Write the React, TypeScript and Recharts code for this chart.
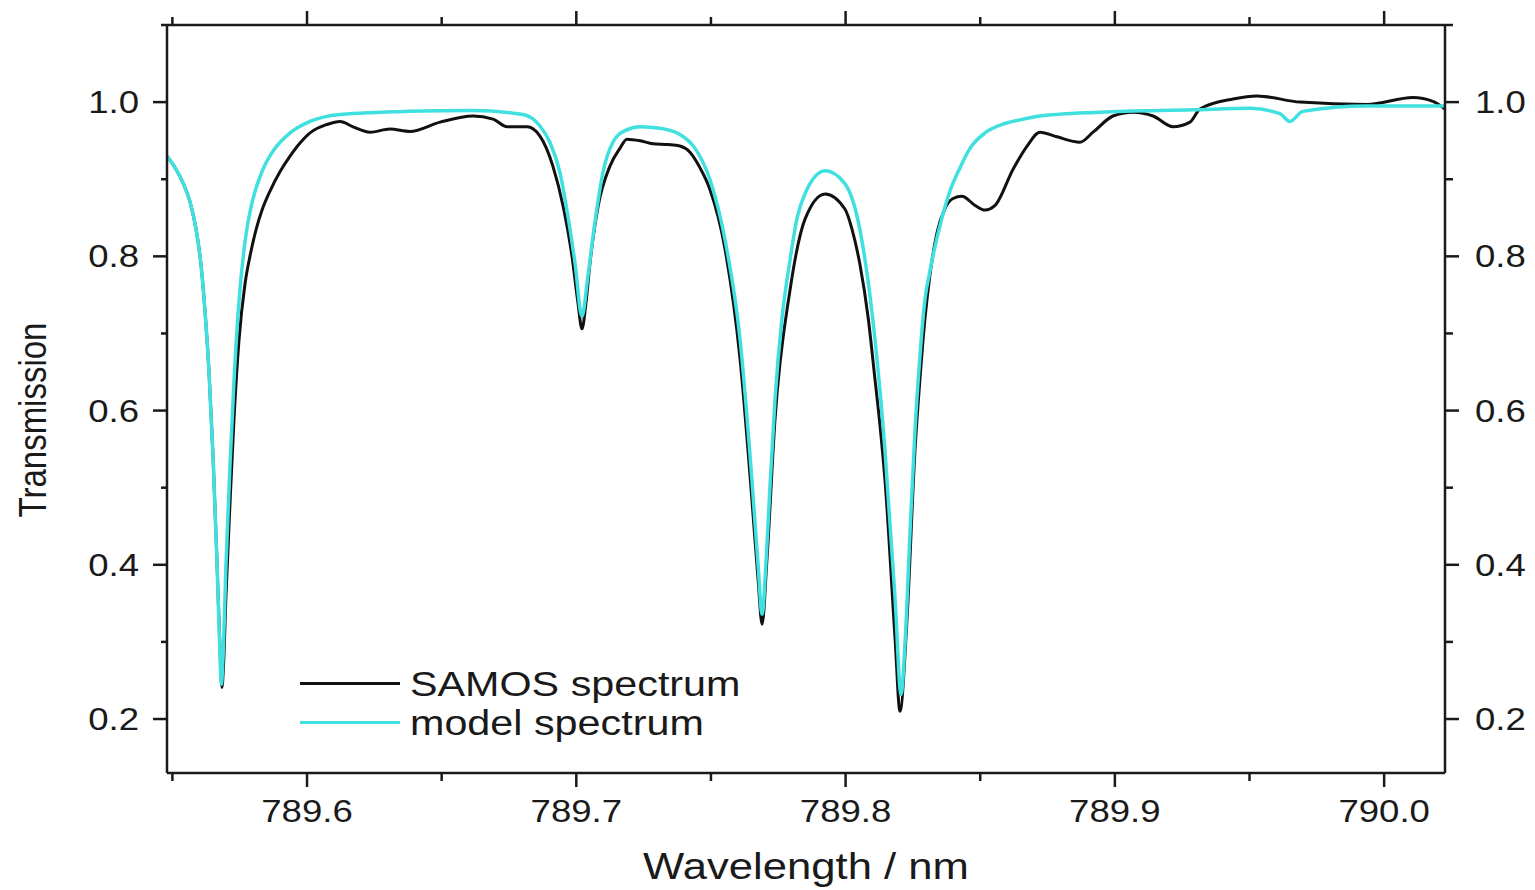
import { LineChart, Line, XAxis, YAxis, Legend } from "recharts";

// axis ranges
const WAVELENGTH_DOMAIN = [789.548, 790.0226];
const TRANSMISSION_DOMAIN = [0.13, 1.1];
const X_TICKS = [789.55, 789.6, 789.65, 789.7, 789.75, 789.8, 789.85, 789.9, 789.95, 790.0];
const Y_TICKS = [0.2, 0.3, 0.4, 0.5, 0.6, 0.7, 0.8, 0.9, 1.0, 1.1];

// measured spectrum (black)
const samosWavelength = [
  789.548, 789.551, 789.554, 789.5566, 789.5588, 789.5606, 789.5621, 789.5636, 789.5651,
  789.5666, 789.5677, 789.5684, 789.569, 789.5699, 789.5714, 789.5729, 789.5747, 789.577,
  789.5788, 789.5811, 789.5833, 789.5863, 789.59, 789.5937, 789.5974, 789.6011, 789.6074,
  789.6123, 789.6171, 789.6234, 789.6308, 789.6382, 789.6494, 789.6616, 789.6691, 789.6743,
  789.6817, 789.6865, 789.6913, 789.6951, 789.6984, 789.7006, 789.7021, 789.7036, 789.7051,
  789.7081, 789.7125, 789.7162, 789.7188, 789.7237, 789.7285, 789.7341, 789.7385, 789.7422,
  789.7459, 789.7496, 789.7552, 789.7608, 789.7652, 789.7675, 789.769, 789.7708, 789.7738,
  789.7794, 789.7849, 789.7924, 789.7998, 789.8024, 789.8053, 789.8084, 789.8109, 789.8128,
  789.8146, 789.8184, 789.8202, 789.8228, 789.8258, 789.8276, 789.8295, 789.8313, 789.8339,
  789.8369, 789.8399, 789.8432, 789.8481, 789.8518, 789.8555, 789.8622, 789.8674, 789.8722,
  789.8785, 789.887, 789.8919, 789.8993, 789.9068, 789.9142, 789.9216, 789.9279, 789.9316,
  789.9439, 789.9528, 789.9688, 789.9936, 790.0107, 790.0181, 790.0226,
];
const samosTransmission = [
  0.93, 0.915, 0.895, 0.87, 0.835, 0.79, 0.73, 0.65, 0.54,
  0.4, 0.29, 0.241, 0.27, 0.36, 0.48, 0.59, 0.69, 0.765,
  0.8, 0.835, 0.86, 0.885, 0.91, 0.93, 0.947, 0.96, 0.971,
  0.975, 0.968, 0.961, 0.965, 0.962, 0.974, 0.982, 0.978, 0.968,
  0.968, 0.956, 0.917, 0.865, 0.8, 0.74, 0.706, 0.74, 0.792,
  0.865, 0.917, 0.94, 0.952, 0.95, 0.946, 0.945, 0.943, 0.935,
  0.915, 0.887, 0.81, 0.667, 0.485, 0.381, 0.323, 0.407, 0.589,
  0.757, 0.848, 0.881, 0.861, 0.835, 0.79, 0.72, 0.641, 0.58,
  0.511, 0.303, 0.21, 0.329, 0.55, 0.64, 0.72, 0.775, 0.83,
  0.862, 0.875, 0.878, 0.866, 0.86, 0.866, 0.913, 0.943, 0.961,
  0.955, 0.948, 0.961, 0.982, 0.987, 0.982, 0.968, 0.974, 0.991,
  1.004, 1.008, 1.0, 0.997, 1.006, 1.001, 0.991,
];

// model spectrum (cyan)
const modelWavelength = [
  789.548, 789.551, 789.554, 789.5566, 789.5588, 789.5606, 789.5621, 789.5636, 789.5651,
  789.5666, 789.5677, 789.5682, 789.5688, 789.5699, 789.5714, 789.5729, 789.5747, 789.577,
  789.5796, 789.5833, 789.5881, 789.5937, 789.6011, 789.6123, 789.6371, 789.6616, 789.6802,
  789.6865, 789.6902, 789.6939, 789.6969, 789.6995, 789.7021, 789.7043, 789.7069, 789.7099,
  789.7136, 789.7181, 789.7237, 789.7311, 789.7385, 789.7441, 789.7496, 789.7552, 789.7608,
  789.7652, 789.7675, 789.769, 789.7704, 789.7719, 789.7738, 789.7764, 789.7794, 789.782,
  789.7849, 789.7924, 789.7998, 789.8053, 789.8109, 789.8146, 789.8184, 789.8206, 789.8221,
  789.8239, 789.8258, 789.8276, 789.8295, 789.831, 789.8358, 789.8388, 789.8425, 789.8462,
  789.8518, 789.8573, 789.8648, 789.8722, 789.8945, 789.929, 789.9502, 789.9613, 789.965,
  789.9698, 789.9936, 790.0226,
];
const modelTransmission = [
  0.93, 0.915, 0.895, 0.87, 0.835, 0.79, 0.73, 0.65, 0.54,
  0.4, 0.28, 0.245, 0.28, 0.4, 0.53, 0.64, 0.74, 0.82,
  0.87, 0.91, 0.94, 0.96, 0.975, 0.984, 0.988, 0.989, 0.984,
  0.969, 0.948, 0.909, 0.852, 0.792, 0.722, 0.774, 0.844, 0.909,
  0.948, 0.963, 0.968, 0.966, 0.958, 0.94, 0.9, 0.822, 0.693,
  0.511, 0.4, 0.336, 0.4, 0.5, 0.615, 0.72, 0.796, 0.85,
  0.881, 0.911, 0.894, 0.835, 0.693, 0.55, 0.355, 0.232, 0.3,
  0.44, 0.576, 0.67, 0.745, 0.775, 0.85, 0.885, 0.915, 0.94,
  0.96, 0.97, 0.977, 0.982, 0.987, 0.99, 0.992, 0.985, 0.975,
  0.988, 0.995, 0.995,
];

const samosData = samosWavelength.map((x, i) => ({ x, t: samosTransmission[i] }));
const modelData = modelWavelength.map((x, i) => ({ x, t: modelTransmission[i] }));

const SERIES = [
  { name: "SAMOS spectrum", color: "#111111", width: 3 },
  { name: "model spectrum", color: "#40e0e0", width: 3.5 },
];

const INK = "#1a1a1a";
const FONT = "'Liberation Sans', Arial, sans-serif";
// the source image is stretched sideways, so text is widened to match
const SX = 1.18;
const MAJOR = 14;
const MINOR = 8;

const isTenth = (v: number) => Math.abs(v * 10 - Math.round(v * 10)) < 1e-6;
const isFifth = (v: number) => Math.abs(v * 5 - Math.round(v * 5)) < 1e-6;

function BottomTick({ x, y, payload }: any) {
  const major = isTenth(payload.value);
  return (
    <g>
      <line x1={x} y1={y} x2={x} y2={y + (major ? MAJOR : MINOR)} stroke={INK} strokeWidth={2.5} />
      {major && (
        <text transform={`translate(${x},${y + 49}) scale(${SX},1)`} textAnchor="middle"
          fontSize={31} fontFamily={FONT} fill={INK}>
          {payload.value.toFixed(1)}
        </text>
      )}
    </g>
  );
}

function TopTick({ x, y, payload }: any) {
  const major = isTenth(payload.value);
  return <line x1={x} y1={y} x2={x} y2={y - (major ? MAJOR : MINOR)} stroke={INK} strokeWidth={2.5} />;
}

function LeftTick({ x, y, payload }: any) {
  const major = isFifth(payload.value);
  return (
    <g>
      <line x1={x} y1={y} x2={x - (major ? MAJOR : MINOR - 2)} y2={y} stroke={INK} strokeWidth={2.5} />
      {major && (
        <text transform={`translate(${x - 28},${y + 11}) scale(${SX},1)`} textAnchor="end"
          fontSize={31} fontFamily={FONT} fill={INK}>
          {payload.value.toFixed(1)}
        </text>
      )}
    </g>
  );
}

function RightTick({ x, y, payload }: any) {
  const major = isFifth(payload.value);
  return (
    <g>
      <line x1={x} y1={y} x2={x + (major ? MAJOR : MINOR)} y2={y} stroke={INK} strokeWidth={2.5} />
      {major && (
        <text transform={`translate(${x + 30},${y + 11}) scale(${SX},1)`} textAnchor="start"
          fontSize={31} fontFamily={FONT} fill={INK}>
          {payload.value.toFixed(1)}
        </text>
      )}
    </g>
  );
}

function renderLegend() {
  return (
    <div>
      {SERIES.map((s) => (
        <div key={s.name} style={{ display: "flex", alignItems: "center", height: 39 }}>
          <div style={{ width: 100, height: 3, background: s.color }} />
          <span
            style={{
              marginLeft: 10,
              fontFamily: FONT,
              fontSize: 35,
              lineHeight: "39px",
              color: INK,
              whiteSpace: "nowrap",
              display: "inline-block",
              transform: `scaleX(${SX})`,
              transformOrigin: "left center",
            }}
          >
            {s.name}
          </span>
        </div>
      ))}
    </div>
  );
}

export default function App() {
  const axisLine = { stroke: INK, strokeWidth: 2.5 };
  return (
    <div style={{ position: "absolute", left: 0, top: 0, width: 1535, height: 890, background: "#fff" }}>
      <LineChart width={1535} height={890} margin={{ top: 15, right: 30, bottom: 57, left: 107 }}>
        <XAxis
          xAxisId="bottom"
          type="number"
          dataKey="x"
          domain={WAVELENGTH_DOMAIN}
          allowDataOverflow
          ticks={X_TICKS}
          interval={0}
          tick={<BottomTick />}
          tickLine={false}
          tickSize={0}
          tickMargin={0}
          axisLine={axisLine}
          height={60}
          label={{
            content: () => (
              <text transform={`translate(806,879) scale(${SX},1)`} textAnchor="middle"
                fontSize={37} fontFamily={FONT} fill={INK}>
                Wavelength / nm
              </text>
            ),
          }}
        />
        <XAxis
          xAxisId="top"
          orientation="top"
          type="number"
          dataKey="x"
          domain={WAVELENGTH_DOMAIN}
          allowDataOverflow
          ticks={X_TICKS}
          interval={0}
          tick={<TopTick />}
          tickLine={false}
          tickSize={0}
          tickMargin={0}
          axisLine={axisLine}
          height={10}
        />
        <YAxis
          yAxisId="left"
          type="number"
          domain={TRANSMISSION_DOMAIN}
          allowDataOverflow
          ticks={Y_TICKS}
          interval={0}
          tick={<LeftTick />}
          tickLine={false}
          tickSize={0}
          tickMargin={0}
          axisLine={axisLine}
          width={60}
          label={{
            content: () => (
              <text transform={`translate(46,420) scale(${SX},1) rotate(-90)`} textAnchor="middle"
                fontSize={33} fontFamily={FONT} fill={INK}>
                Transmission
              </text>
            ),
          }}
        />
        <YAxis
          yAxisId="right"
          orientation="right"
          type="number"
          domain={TRANSMISSION_DOMAIN}
          allowDataOverflow
          ticks={Y_TICKS}
          interval={0}
          tick={<RightTick />}
          tickLine={false}
          tickSize={0}
          tickMargin={0}
          axisLine={axisLine}
          width={60}
        />
        <Legend
          layout="vertical"
          align="center"
          verticalAlign="middle"
          content={renderLegend}
          wrapperStyle={{ left: 300, top: 664, width: 520 }}
        />
        <Line
          xAxisId="bottom"
          yAxisId="left"
          data={samosData}
          dataKey="t"
          name={SERIES[0].name}
          type="monotone"
          stroke={SERIES[0].color}
          strokeWidth={SERIES[0].width}
          dot={false}
          isAnimationActive={false}
        />
        <Line
          xAxisId="bottom"
          yAxisId="left"
          data={modelData}
          dataKey="t"
          name={SERIES[1].name}
          type="monotone"
          stroke={SERIES[1].color}
          strokeWidth={SERIES[1].width}
          dot={false}
          isAnimationActive={false}
        />
      </LineChart>
    </div>
  );
}
